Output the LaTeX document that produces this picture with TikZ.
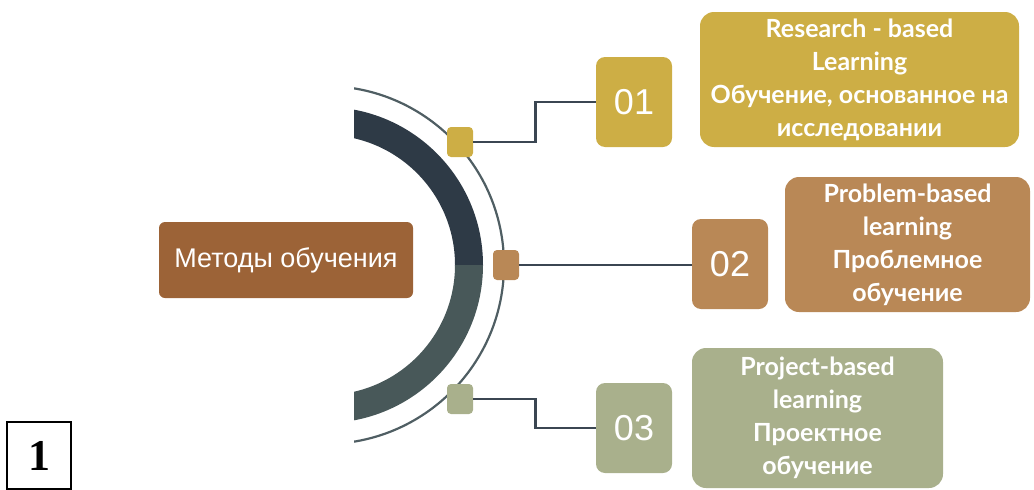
\documentclass[tikz,border=0pt]{standalone}
\usepackage{fontspec}
\setmainfont{Liberation Sans}
\newfontfamily\boxfont{Lato}
\newfontfamily\tagfont{Liberation Serif}

\definecolor{bandtop}{HTML}{2E3A46}
\definecolor{bandbot}{HTML}{485859}
\definecolor{ringgray}{HTML}{4F5E63}
\definecolor{linkgray}{HTML}{3B4652}
\definecolor{methgold}{HTML}{CDAE45}
\definecolor{methtan}{HTML}{B98856}
\definecolor{methsage}{HTML}{A9B08C}
\definecolor{methrust}{HTML}{9C6337}

\begin{document}
\begin{tikzpicture}[x=1pt,y=-1pt,
    % Styles
    mainbox/.style={fill=methrust, rounded corners=6pt, inner sep=0pt,
      minimum width=254pt, minimum height=76pt, text=white,
      font=\fontsize{27}{30}\selectfont},                       % central topic
    numbox/.style={rounded corners=9pt, inner sep=0pt, minimum width=76pt,
      minimum height=90pt, text=white, font=\fontsize{36}{40}\selectfont}, % 01, 02, 03
    infobox/.style={rounded corners=14pt, inner sep=0pt, text=white, align=center,
      font=\boxfont\bfseries\fontsize{25}{33}\selectfont},      % method description
    knob/.style={rounded corners=4pt, inner sep=0pt, minimum width=26pt,
      minimum height=30pt},                                     % small squares on ring
    link/.style={draw=linkgray, line width=2.8pt}
]

  \useasboundingbox (0,0) rectangle (1034,490);

  % Thin outer ring
  \begin{scope}
    \clip (354,0) rectangle (700,490);
    \draw[ringgray, line width=2.2pt] (325,265) circle (179pt);
  \end{scope}

  % Thick half ring, upper and lower part
  \begin{scope}
    \clip (354,0) rectangle (700,265);
    \fill[bandtop, even odd rule] (325,265) circle (158pt) (325,265) circle (130pt);
  \end{scope}
  \begin{scope}
    \clip (354,265) rectangle (700,490);
    \fill[bandbot, even odd rule] (325,265) circle (158pt) (325,265) circle (130pt);
  \end{scope}

  % Central topic
  \node[mainbox] (topic) at (286,260) {Методы обучения};

  % Squares on the ring
  \node[knob, fill=methgold] (k1) at (460,142) {};
  \node[knob, fill=methtan]  (k2) at (506,265) {};
  \node[knob, fill=methsage] (k3) at (460,399) {};

  % Numbers
  \node[numbox, fill=methgold] (n1) at (634,102) {01};
  \node[numbox, fill=methtan]  (n2) at (730,264) {02};
  \node[numbox, fill=methsage] (n3) at (634,428) {03};

  % Methods
  \node[infobox, fill=methgold, minimum width=319pt, minimum height=135pt] (m1) at (859.5,79.5)
    {Research - based\\Learning\\Обучение, основанное на\\исследовании};
  \node[infobox, fill=methtan, minimum width=245pt, minimum height=135pt] (m2) at (907.5,244.5)
    {Problem-based\\learning\\Проблемное\\обучение};
  \node[infobox, fill=methsage, minimum width=251pt, minimum height=140pt] (m3) at (817.5,418)
    {Project-based\\learning\\Проектное\\обучение};

  % Connectors
  \draw[link] (k1.east) -- ++(62,0) |- (n1.west);
  \draw[link] (k2.east) -- (k2.east -| n2.west);
  \draw[link] (k3.east) -- ++(62,0) |- (n3.west);

  % Figure tag
  \node[draw=black, line width=1.6pt, inner sep=0pt, minimum width=64pt, minimum height=67pt,
    font=\tagfont\bfseries\fontsize{44}{48}\selectfont] (tag) at (39,455.5) {1};

\end{tikzpicture}
\end{document}
